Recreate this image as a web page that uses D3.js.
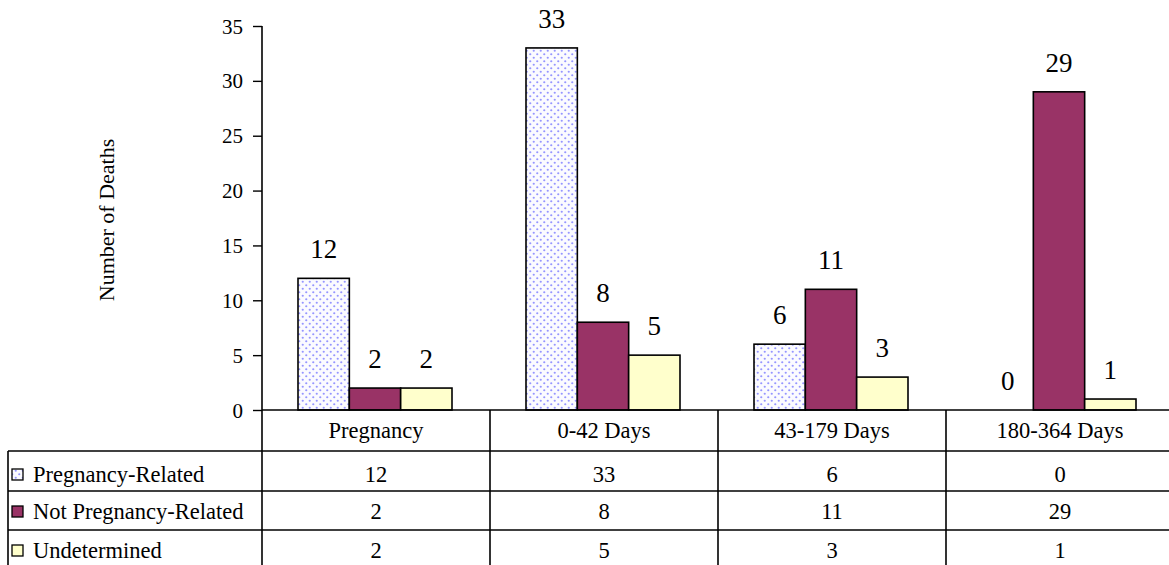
<!DOCTYPE html>
<html><head><meta charset="utf-8">
<script src="https://cdn.jsdelivr.net/npm/d3@7"></script>
<style>body{margin:0;background:#fff}svg{display:block}</style>
</head><body><svg id="c" width="1169" height="565"></svg>
<script>
const categories = ["Pregnancy", "0-42 Days", "43-179 Days", "180-364 Days"];
const seriesNames = ["Pregnancy-Related", "Not Pregnancy-Related", "Undetermined"];
const pregnancyRelated = [12, 33, 6, 0];
const notPregnancyRelated = [2, 8, 11, 29];
const undetermined = [2, 5, 3, 1];
const yTicks = [0, 5, 10, 15, 20, 25, 30, 35];
const seriesValues = [pregnancyRelated, notPregnancyRelated, undetermined];

(function(){
const FONT = "'Liberation Serif'";
const svg = d3.select("#c");
const defs = svg.append("defs");
const pat = defs.append("pattern").attr("id","dots").attr("patternUnits","userSpaceOnUse")
  .attr("width",7).attr("height",7);
pat.append("rect").attr("width",7).attr("height",7).attr("fill","#fbfbff");
pat.append("circle").attr("cx",1.75).attr("cy",1.75).attr("r",1.1).attr("fill","#9595ff");
pat.append("circle").attr("cx",5.25).attr("cy",5.25).attr("r",1.1).attr("fill","#9595ff");
const fills = ["url(#dots)", "#993366", "#ffffcc"];

const mLeft = 262, mRight = 1174, mTop = 26, base = 410;
const x0 = d3.scaleBand().domain(categories).range([mLeft, mRight]).padding(0);
const x1 = d3.scaleBand().domain(d3.range(3)).range([36, x0.bandwidth()-38]).padding(0);
const y = d3.scaleLinear().domain([0, 35]).range([base, mTop]);

function txt(x, yy, s, size, anchor){
  return svg.append("text").attr("x",x).attr("y",yy).attr("text-anchor",anchor||"middle")
    .style("font-family", FONT).style("font-size", size+"px").attr("fill","#000").text(s);
}

const yAxis = d3.axisLeft(y).tickValues(yTicks).tickSize(9).tickPadding(10);
const gy = svg.append("g").attr("transform",`translate(${mLeft},0)`).call(yAxis);
gy.select(".domain").remove();
gy.selectAll(".tick line").attr("stroke","#000").attr("stroke-width",1.4);
gy.selectAll(".tick text").attr("dy","0.34em").style("font-family", FONT).style("font-size","21px").attr("fill","#000");
svg.append("line").attr("x1",mLeft).attr("x2",mLeft).attr("y1",mTop).attr("y2",565).attr("stroke","#000").attr("stroke-width",1.6);

svg.append("text").attr("transform",`translate(114,220) rotate(-90)`).attr("text-anchor","middle")
  .style("font-family", FONT).style("font-size","22px").attr("fill","#000").text("Number of Deaths");

categories.forEach((c, ci) => {
  seriesValues.forEach((vals, si) => {
    const v = vals[ci];
    const bx = x0(c) + x1(si);
    if (v > 0) {
      svg.append("rect").attr("x", bx).attr("y", y(v)).attr("width", x1.bandwidth())
        .attr("height", base - y(v)).attr("fill", fills[si]).attr("stroke","#000").attr("stroke-width",1.6);
    }
    txt(bx + x1.bandwidth()/2, y(v) - 20, v, 27);
  });
});

const rowY = [410, 451, 491, 530, 569];
const tbl = svg.append("g").attr("stroke","#000").attr("stroke-width",1.6);
tbl.append("line").attr("x1",mLeft).attr("x2",mRight).attr("y1",base).attr("y2",base);
[1,2,3,4].forEach(i => tbl.append("line").attr("x1",8).attr("x2",mRight).attr("y1",rowY[i]).attr("y2",rowY[i]));
tbl.append("line").attr("x1",8).attr("x2",8).attr("y1",rowY[1]).attr("y2",569);
categories.forEach((c,i) => {
  if (i>0) tbl.append("line").attr("x1",x0(c)).attr("x2",x0(c)).attr("y1",base).attr("y2",569);
  txt(x0(c)+x0.bandwidth()/2, 438, c, 22.5);
});
const baselines = [482, 519, 558];
seriesNames.forEach((s, si) => {
  const by = baselines[si];
  svg.append("rect").attr("x",12).attr("y",by-13).attr("width",11).attr("height",11)
    .attr("fill",fills[si]).attr("stroke","#000").attr("stroke-width",1.3);
  txt(33, by, s, 22.5, "start");
  categories.forEach((c, ci) => {
    txt(x0(c)+x0.bandwidth()/2, by, seriesValues[si][ci], 22.5);
  });
});
})();
</script></body></html>
